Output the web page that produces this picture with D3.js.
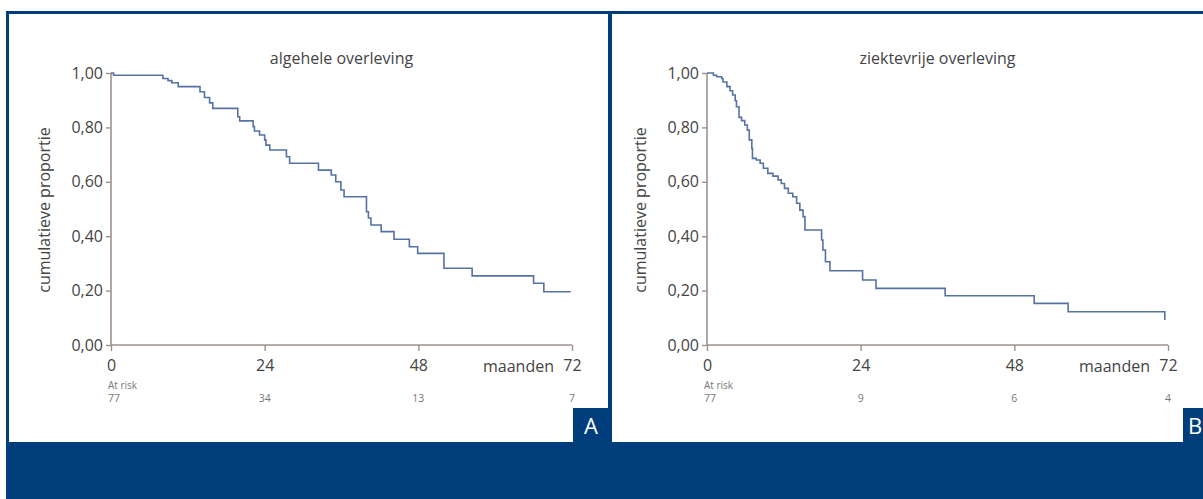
<!DOCTYPE html>
<html>
<head>
<meta charset="utf-8">
<script src="https://cdn.jsdelivr.net/npm/d3@7"></script>
<style>
  html, body { margin: 0; padding: 0; background: #fff; }
  svg { display: block; }
</style>
</head>
<body>
<div id="chart"></div>
<script>
// tick values
var monthTicks = [0, 24, 48, 72];
var propTicks = [0, 0.2, 0.4, 0.6, 0.8, 1.0];

// A: algehele overleving
var osMonths = [0, 0.4, 8.1, 8.9, 9.5, 10.5, 13.9, 14.6, 15.4, 15.9, 19.8, 20.1, 22.2, 22.4, 23.2, 24.0, 24.2, 24.8,
  27.4, 27.9, 32.4, 34.4, 35.1, 35.9, 36.4, 39.9, 40.2, 40.6, 42.2, 44.2, 46.6, 47.9, 52.0, 56.4, 66.0, 67.6, 71.8];
var osSurv = [1.0, 0.992, 0.980, 0.972, 0.964, 0.950, 0.931, 0.910, 0.890, 0.870, 0.839, 0.824, 0.803, 0.787, 0.772, 0.754, 0.735, 0.717,
  0.692, 0.668, 0.643, 0.625, 0.600, 0.570, 0.545, 0.490, 0.467, 0.441, 0.417, 0.389, 0.361, 0.337, 0.282, 0.254, 0.227, 0.196, 0.196];
var osAtRisk = [77, 34, 13, 7];

// B: ziektevrije overleving
var dfsMonths = [0, 1.0, 1.5, 2.3, 2.5, 3.1, 3.6, 4.0, 4.4, 4.6, 5.0, 5.4, 5.9, 6.3, 6.6, 7.0, 7.1, 7.7, 8.3, 8.8,
  9.5, 10.3, 11.1, 11.6, 12.1, 12.7, 13.4, 14.0, 14.5, 15.0, 15.3, 17.9, 18.1, 18.5, 19.2, 24.3, 26.4, 37.2, 51.1, 56.4, 71.5];
var dfsSurv = [1.0, 0.992, 0.986, 0.980, 0.967, 0.950, 0.935, 0.919, 0.898, 0.876, 0.837, 0.825, 0.809, 0.790, 0.754, 0.723, 0.686, 0.680, 0.668, 0.650,
  0.631, 0.621, 0.607, 0.594, 0.576, 0.558, 0.545, 0.521, 0.496, 0.472, 0.423, 0.386, 0.349, 0.306, 0.273, 0.239, 0.208, 0.181, 0.153, 0.122, 0.092];
var dfsAtRisk = [77, 9, 6, 4];

var W = 1203, H = 499;
var blue = "#003e7b";
var axisCol = "#9e918c";
var textCol = "#444";
var curveCol = "#5672a3";
var font = "'Open Sans', 'Noto Sans', sans-serif";

var svg = d3.select("#chart").append("svg")
  .attr("width", W)
  .attr("height", H);

/* frame */
svg.append("rect").attr("x", 6).attr("y", 11).attr("width", W - 6).attr("height", H - 11).attr("fill", blue);
svg.append("rect").attr("x", 9).attr("y", 14).attr("width", 599).attr("height", 428).attr("fill", "#fff");
svg.append("rect").attr("x", 612).attr("y", 14).attr("width", W - 612).attr("height", 428).attr("fill", "#fff");

var fmt = function(d) { return d3.format(".2f")(d).replace(".", ","); };

function drawPanel(x0, title, months, surv, atRisk) {
  var x = d3.scaleLinear().domain([0, 72]).range([x0, x0 + 461]);
  var y = d3.scaleLinear().domain([0, 1]).range([345, 73]);
  var g = svg.append("g");

  // title
  g.append("text")
    .attr("x", (x(0) + x(72)) / 2).attr("y", 64)
    .attr("text-anchor", "middle")
    .style("font", "16px " + font).attr("fill", textCol)
    .text(title);

  // y label
  g.append("text")
    .attr("transform", "translate(" + (x0 - 61) + "," + 210 + ") rotate(-90)")
    .attr("text-anchor", "middle")
    .style("font", "16px " + font).attr("fill", textCol)
    .text("cumulatieve proportie");

  var ya = g.append("g")
    .attr("transform", "translate(" + x0 + ",0)")
    .call(d3.axisLeft(y).tickValues(propTicks).tickFormat(fmt).tickSize(5).tickPadding(3));

  var xa = g.append("g")
    .attr("transform", "translate(0,345)")
    .call(d3.axisBottom(x).tickValues(monthTicks).tickSize(6).tickPadding(9));

  [ya, xa].forEach(function(a) {
    a.select(".domain").attr("stroke", axisCol).attr("stroke-width", 1.6);
    a.selectAll(".tick line").attr("stroke", axisCol).attr("stroke-width", 1.4);
    a.selectAll("text").style("font", "16px " + font).attr("fill", textCol);
  });
  ya.select(".domain").attr("d", "M0," + y(0) + "V" + y(1));
  xa.select(".domain").attr("d", "M" + x(0) + ",0H" + x(72));

  g.append("text")
    .attr("x", x(72) - 18).attr("y", 372)
    .attr("text-anchor", "end")
    .style("font", "16px " + font).attr("fill", textCol)
    .text("maanden");

  // curve
  var pts = months.map(function(m, i) { return [m, surv[i]]; });
  var line = d3.line()
    .x(function(d) { return x(d[0]); })
    .y(function(d) { return y(d[1]); })
    .curve(d3.curveStepAfter);
  g.append("path")
    .datum(pts)
    .attr("d", line)
    .attr("fill", "none")
    .attr("stroke", curveCol)
    .attr("stroke-width", 1.6);

  // at risk
  g.append("text")
    .attr("x", x0 - 3).attr("y", 389)
    .style("font", "10px " + font).attr("fill", "#777")
    .text("At risk");
  g.selectAll("text.risk")
    .data(atRisk)
    .enter().append("text")
    .attr("class", "risk")
    .attr("x", function(d, i) { return i === 0 ? x0 - 3 : x(monthTicks[i]); })
    .attr("y", 402)
    .attr("text-anchor", function(d, i) { return i === 0 ? "start" : "middle"; })
    .style("font", "10.5px " + font).attr("fill", "#777")
    .text(function(d) { return d; });
}

drawPanel(111, "algehele overleving", osMonths, osSurv, osAtRisk);
drawPanel(707, "ziektevrije overleving", dfsMonths, dfsSurv, dfsAtRisk);

/* panel letters */
var letters = ["A", "B"];
var letterBoxes = [[573, 608], [1183, W]];
letters.forEach(function(l, i) {
  var b = letterBoxes[i];
  svg.append("rect").attr("x", b[0]).attr("y", 408).attr("width", b[1] - b[0]).attr("height", 35).attr("fill", blue);
  svg.append("text")
    .attr("x", i === 0 ? b[0] + 18 : b[0] + 5).attr("y", 434)
    .attr("text-anchor", i === 0 ? "middle" : "start")
    .style("font", "22px 'Open Sans', sans-serif").attr("fill", "#fff")
    .text(l);
});
</script>
</body>
</html>
